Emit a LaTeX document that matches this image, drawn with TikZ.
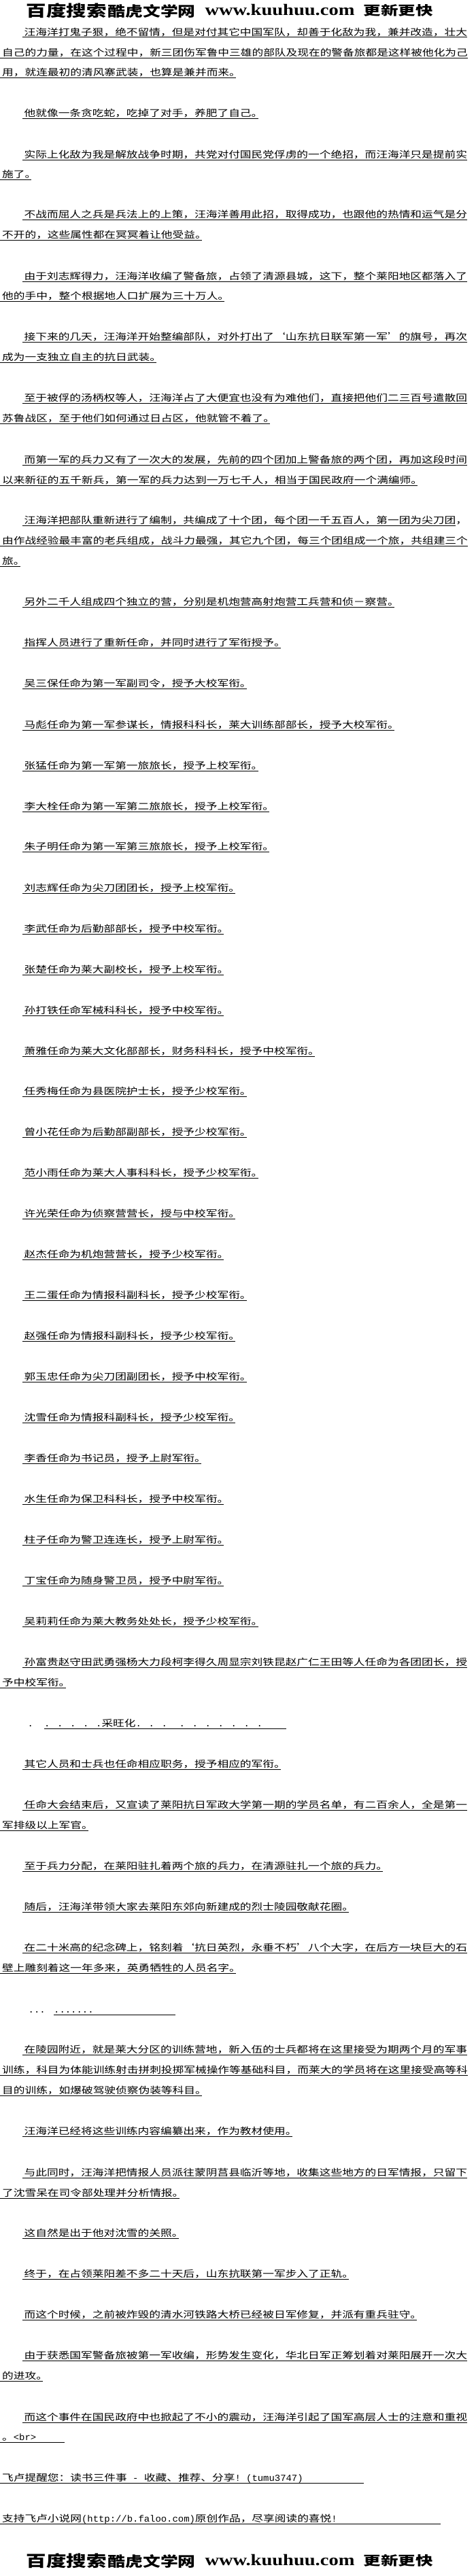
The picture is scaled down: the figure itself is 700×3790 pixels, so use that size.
\documentclass[tikz,border=0pt]{standalone}
\usepackage{fontspec}
\usepackage{graphicx}
\newfontfamily\cjk[FakeStretch=1.237]{Noto Sans CJK SC}
\newfontfamily\lat[FakeStretch=1.03]{Liberation Mono}
\newfontfamily\webfont{Liberation Serif}
\newcommand\dotcell{\makebox[19pt][l]{\lat .}}
\newcommand\openq{\makebox[16.7pt][r]{‘}}
\newcommand\closeq{\makebox[16.7pt][l]{’}}
\tikzset{
  textline/.style={anchor=south west, inner sep=0pt, text depth=2pt,
    font=\cjk\fontsize{13.5}{13.5}\selectfont},
  banner/.style={anchor=south west, inner sep=0pt, font=\cjk},
  uline/.style={line width=1pt}
}
\begin{document}
\begin{tikzpicture}[x=1pt,y=-1pt]
  \fill[white] (0,0) rectangle (700,3790);
  \useasboundingbox (0,0) rectangle (700,3790);
  \draw
    (38.5,27) node[banner] (t1) {\resizebox*{118pt}{22pt}{\bfseries 百度搜索}}
    (158.5,27) node[banner] (t2) {\resizebox*{129pt}{20pt}{\bfseries 酷虎文学网}}
    (301.3,23.3) node[banner] (t3) {\resizebox*{220pt}{16.6pt}{\webfont\bfseries www.kuuhuu.com}}
    (534.7,25) node[banner] (t4) {\resizebox*{102pt}{18pt}{\bfseries 更新更快}}
    (35.5,55) node[textline] (1) {汪海洋打鬼子狠，绝不留情，但是对付其它中国军队，却善于化敌为我，兼并改造，壮大}
    (3,85) node[textline] (2) {自己的力量，在这个过程中，新三团伤军鲁中三雄的部队及现在的警备旅都是这样被他化为己}
    (3,114) node[textline] (3) {用，就连最初的清风寨武装，也算是兼并而来。}
    (35.5,174) node[textline] (4) {他就像一条贪吃蛇，吃掉了对手，养肥了自己。}
    (35.5,235) node[textline] (5) {实际上化敌为我是解放战争时期，共党对付国民党俘虏的一个绝招，而汪海洋只是提前实}
    (3,264) node[textline] (6) {施了。}
    (35.5,323) node[textline] (7) {不战而屈人之兵是兵法上的上策，汪海洋善用此招，取得成功，也跟他的热情和运气是分}
    (3,353) node[textline] (8) {不开的，这些属性都在冥冥着让他受益。}
    (35.5,414) node[textline] (9) {由于刘志辉得力，汪海洋收编了警备旅，占领了清源县城，这下，整个莱阳地区都落入了}
    (3,443) node[textline] (10) {他的手中，整个根据地人口扩展为三十万人。}
    (35.5,503) node[textline] (11) {接下来的几天，汪海洋开始整编部队，对外打出了\openq 山东抗日联军第一军\closeq 的旗号，再次}
    (3,533) node[textline] (12) {成为一支独立自主的抗日武装。}
    (35.5,593) node[textline] (13) {至于被俘的汤柄权等人，汪海洋占了大便宜也没有为难他们，直接把他们二三百号遣散回}
    (3,623) node[textline] (14) {苏鲁战区，至于他们如何通过日占区，他就管不着了。}
    (35.5,684) node[textline] (15) {而第一军的兵力又有了一次大的发展，先前的四个团加上警备旅的两个团，再加这段时间}
    (3,714) node[textline] (16) {以来新征的五千新兵，第一军的兵力达到一万七千人，相当于国民政府一个满编师。}
    (35.5,773) node[textline] (17) {汪海洋把部队重新进行了编制，共编成了十个团，每个团一千五百人，第一团为尖刀团，}
    (3,803) node[textline] (18) {由作战经验最丰富的老兵组成，战斗力最强，其它九个团，每三个团组成一个旅，共组建三个}
    (3,833) node[textline] (19) {旅。}
    (35.5,893) node[textline] (20) {另外二千人组成四个独立的营，分别是机炮营高射炮营工兵营和侦－察营。}
    (35.5,953) node[textline] (21) {指挥人员进行了重新任命，并同时进行了军衔授予。}
    (35.5,1013) node[textline] (22) {吴三保任命为第一军副司令，授予大校军衔。}
    (35.5,1074) node[textline] (23) {马彪任命为第一军参谋长，情报科科长，莱大训练部部长，授予大校军衔。}
    (35.5,1134) node[textline] (24) {张猛任命为第一军第一旅旅长，授予上校军衔。}
    (35.5,1194) node[textline] (25) {李大栓任命为第一军第二旅旅长，授予上校军衔。}
    (35.5,1253) node[textline] (26) {朱子明任命为第一军第三旅旅长，授予上校军衔。}
    (35.5,1314) node[textline] (27) {刘志辉任命为尖刀团团长，授予上校军衔。}
    (35.5,1374) node[textline] (28) {李武任命为后勤部部长，授予中校军衔。}
    (35.5,1434) node[textline] (29) {张楚任命为莱大副校长，授予上校军衔。}
    (35.5,1494) node[textline] (30) {孙打铁任命军械科科长，授予中校军衔。}
    (35.5,1554) node[textline] (31) {萧雅任命为莱大文化部部长，财务科科长，授予中校军衔。}
    (35.5,1613) node[textline] (32) {任秀梅任命为县医院护士长，授予少校军衔。}
    (35.5,1673) node[textline] (33) {曾小花任命为后勤部副部长，授予少校军衔。}
    (35.5,1733) node[textline] (34) {范小雨任命为莱大人事科科长，授予少校军衔。}
    (35.5,1793) node[textline] (35) {许光荣任命为侦察营营长，授与中校军衔。}
    (35.5,1853) node[textline] (36) {赵杰任命为机炮营营长，授予少校军衔。}
    (35.5,1913) node[textline] (37) {王二蛋任命为情报科副科长，授予少校军衔。}
    (35.5,1973) node[textline] (38) {赵强任命为情报科副科长，授予少校军衔。}
    (35.5,2033) node[textline] (39) {郭玉忠任命为尖刀团副团长，授予中校军衔。}
    (35.5,2093) node[textline] (40) {沈雪任命为情报科副科长，授予少校军衔。}
    (35.5,2153) node[textline] (41) {李香任命为书记员，授予上尉军衔。}
    (35.5,2213) node[textline] (42) {水生任命为保卫科科长，授予中校军衔。}
    (35.5,2273) node[textline] (43) {柱子任命为警卫连连长，授予上尉军衔。}
    (35.5,2333) node[textline] (44) {丁宝任命为随身警卫员，授予中尉军衔。}
    (35.5,2393) node[textline] (45) {吴莉莉任命为莱大教务处处长，授予少校军衔。}
    (35.5,2453) node[textline] (46) {孙富贵赵守田武勇强杨大力段柯李得久周显宗刘铁昆赵广仁王田等人任命为各团团长，授}
    (3,2483) node[textline] (47) {予中校军衔。}
    (40.5,2543) node[textline] (48) {\lat .}
    (65,2543) node[textline] (49) {\makebox[356pt][l]{\dotcell\dotcell\dotcell\dotcell{\lat .}采旺化\dotcell\dotcell{\lat .}\hspace{17.6pt}\dotcell\dotcell\dotcell\dotcell\dotcell\dotcell{\lat .}}}
    (35.5,2603) node[textline] (50) {其它人员和士兵也任命相应职务，授予相应的军衔。}
    (35.5,2663) node[textline] (51) {任命大会结束后，又宣读了莱阳抗日军政大学第一期的学员名单，有二百余人，全是第一}
    (3,2693) node[textline] (52) {军排级以上军官。}
    (35.5,2753) node[textline] (53) {至于兵力分配，在莱阳驻扎着两个旅的兵力，在清源驻扎一个旅的兵力。}
    (35.5,2813) node[textline] (54) {随后，汪海洋带领大家去莱阳东郊向新建成的烈士陵园敬献花圈。}
    (35.5,2873) node[textline] (55) {在二十米高的纪念碑上，铭刻着\openq 抗日英烈，永垂不朽\closeq 八个大字，在后方一块巨大的石}
    (3,2903) node[textline] (56) {壁上雕刻着这一年多来，英勇牺牲的人员名字。}
    (41.5,2964) node[textline] (57) {\lat ...}
    (79,2964) node[textline] (58) {\makebox[179pt][l]{\lat .......}}
    (35.5,3023) node[textline] (59) {在陵园附近，就是莱大分区的训练营地，新入伍的士兵都将在这里接受为期两个月的军事}
    (3,3053) node[textline] (60) {训练，科目为体能训练射击拼刺投掷军械操作等基础科目，而莱大的学员将在这里接受高等科}
    (3,3083) node[textline] (61) {目的训练，如爆破驾驶侦察伪装等科目。}
    (35.5,3143) node[textline] (62) {汪海洋已经将这些训练内容编纂出来，作为教材使用。}
    (35.5,3204) node[textline] (63) {与此同时，汪海洋把情报人员派往蒙阴莒县临沂等地，收集这些地方的日军情报，只留下}
    (3,3234) node[textline] (64) {了沈雪呆在司令部处理并分析情报。}
    (35.5,3293) node[textline] (65) {这自然是出于他对沈雪的关照。}
    (35.5,3353) node[textline] (66) {终于，在占领莱阳差不多二十天后，山东抗联第一军步入了正轨。}
    (35.5,3413) node[textline] (67) {而这个时候，之前被炸毁的清水河铁路大桥已经被日军修复，并派有重兵驻守。}
    (35.5,3473) node[textline] (68) {由于获悉国军警备旅被第一军收编，形势发生变化，华北日军正筹划着对莱阳展开一次大}
    (3,3503) node[textline] (69) {的进攻。}
    (35.5,3564) node[textline] (70) {而这个事件在国民政府中也掀起了不小的震动，汪海洋引起了国军高层人士的注意和重视}
    (3,3593) node[textline] (71) {\makebox[92pt][l]{。{\lat <br>}}}
    (3,3653) node[textline] (72) {\makebox[532pt][l]{飞卢提醒您：读书三件事{\lat\ -\ }收藏、推荐、分享{\lat !\ (tumu3747)}}}
    (3,3713) node[textline] (73) {\makebox[645pt][l]{支持飞卢小说网{\lat (http://b.faloo.com)}原创作品，尽享阅读的喜悦{\lat !}}}
    (38.5,3778.7) node[banner] (b1) {\resizebox*{118pt}{22pt}{\bfseries 百度搜索}}
    (158.5,3778.7) node[banner] (b2) {\resizebox*{129pt}{20pt}{\bfseries 酷虎文学网}}
    (301.3,3775) node[banner] (b3) {\resizebox*{220pt}{16.6pt}{\webfont\bfseries www.kuuhuu.com}}
    (534.7,3776.7) node[banner] (b4) {\resizebox*{102pt}{18pt}{\bfseries 更新更快}};
  % underlines
  \begin{scope}[uline]
    \draw ([xshift=-3pt]1.south west) to (1.south east);
    \draw ([xshift=-3pt]2.south west) to (2.south east);
    \draw ([xshift=-3pt]3.south west) to ([xshift=-7pt]3.south east);
    \draw ([xshift=-3pt]4.south west) to ([xshift=-7pt]4.south east);
    \draw ([xshift=-3pt]5.south west) to (5.south east);
    \draw ([xshift=-3pt]6.south west) to ([xshift=-7pt]6.south east);
    \draw ([xshift=-3pt]7.south west) to (7.south east);
    \draw ([xshift=-3pt]8.south west) to ([xshift=-7pt]8.south east);
    \draw ([xshift=-3pt]9.south west) to (9.south east);
    \draw ([xshift=-3pt]10.south west) to ([xshift=-7pt]10.south east);
    \draw ([xshift=-3pt]11.south west) to (11.south east);
    \draw ([xshift=-3pt]12.south west) to ([xshift=-7pt]12.south east);
    \draw ([xshift=-3pt]13.south west) to (13.south east);
    \draw ([xshift=-3pt]14.south west) to ([xshift=-7pt]14.south east);
    \draw ([xshift=-3pt]15.south west) to (15.south east);
    \draw ([xshift=-3pt]16.south west) to ([xshift=-7pt]16.south east);
    \draw ([xshift=-3pt]17.south west) to ([xshift=-16.7pt]17.south east);
    \draw ([xshift=-3pt]18.south west) to (18.south east);
    \draw ([xshift=-3pt]19.south west) to ([xshift=-7pt]19.south east);
    \draw ([xshift=-3pt]20.south west) to ([xshift=-7pt]20.south east);
    \draw ([xshift=-3pt]21.south west) to ([xshift=-7pt]21.south east);
    \draw ([xshift=-3pt]22.south west) to ([xshift=-7pt]22.south east);
    \draw ([xshift=-3pt]23.south west) to ([xshift=-7pt]23.south east);
    \draw ([xshift=-3pt]24.south west) to ([xshift=-7pt]24.south east);
    \draw ([xshift=-3pt]25.south west) to ([xshift=-7pt]25.south east);
    \draw ([xshift=-3pt]26.south west) to ([xshift=-7pt]26.south east);
    \draw ([xshift=-3pt]27.south west) to ([xshift=-7pt]27.south east);
    \draw ([xshift=-3pt]28.south west) to ([xshift=-7pt]28.south east);
    \draw ([xshift=-3pt]29.south west) to ([xshift=-7pt]29.south east);
    \draw ([xshift=-3pt]30.south west) to ([xshift=-7pt]30.south east);
    \draw ([xshift=-3pt]31.south west) to ([xshift=-7pt]31.south east);
    \draw ([xshift=-3pt]32.south west) to ([xshift=-7pt]32.south east);
    \draw ([xshift=-3pt]33.south west) to ([xshift=-7pt]33.south east);
    \draw ([xshift=-3pt]34.south west) to ([xshift=-7pt]34.south east);
    \draw ([xshift=-3pt]35.south west) to ([xshift=-7pt]35.south east);
    \draw ([xshift=-3pt]36.south west) to ([xshift=-7pt]36.south east);
    \draw ([xshift=-3pt]37.south west) to ([xshift=-7pt]37.south east);
    \draw ([xshift=-3pt]38.south west) to ([xshift=-7pt]38.south east);
    \draw ([xshift=-3pt]39.south west) to ([xshift=-7pt]39.south east);
    \draw ([xshift=-3pt]40.south west) to ([xshift=-7pt]40.south east);
    \draw ([xshift=-3pt]41.south west) to ([xshift=-7pt]41.south east);
    \draw ([xshift=-3pt]42.south west) to ([xshift=-7pt]42.south east);
    \draw ([xshift=-3pt]43.south west) to ([xshift=-7pt]43.south east);
    \draw ([xshift=-3pt]44.south west) to ([xshift=-7pt]44.south east);
    \draw ([xshift=-3pt]45.south west) to ([xshift=-7pt]45.south east);
    \draw ([xshift=-3pt]46.south west) to (46.south east);
    \draw ([xshift=-3pt]47.south west) to ([xshift=-7pt]47.south east);
    \draw (49.south west) to (49.south east);
    \draw ([xshift=-3pt]50.south west) to ([xshift=-7pt]50.south east);
    \draw ([xshift=-3pt]51.south west) to (51.south east);
    \draw ([xshift=-3pt]52.south west) to ([xshift=-7pt]52.south east);
    \draw ([xshift=-3pt]53.south west) to ([xshift=-7pt]53.south east);
    \draw ([xshift=-3pt]54.south west) to ([xshift=-7pt]54.south east);
    \draw ([xshift=-3pt]55.south west) to (55.south east);
    \draw ([xshift=-3pt]56.south west) to ([xshift=-7pt]56.south east);
    \draw (58.south west) to (58.south east);
    \draw ([xshift=-3pt]59.south west) to (59.south east);
    \draw ([xshift=-3pt]60.south west) to (60.south east);
    \draw ([xshift=-3pt]61.south west) to ([xshift=-7pt]61.south east);
    \draw ([xshift=-3pt]62.south west) to ([xshift=-7pt]62.south east);
    \draw ([xshift=-3pt]63.south west) to (63.south east);
    \draw ([xshift=-3pt]64.south west) to ([xshift=-7pt]64.south east);
    \draw ([xshift=-3pt]65.south west) to ([xshift=-7pt]65.south east);
    \draw ([xshift=-3pt]66.south west) to ([xshift=-7pt]66.south east);
    \draw ([xshift=-3pt]67.south west) to ([xshift=-7pt]67.south east);
    \draw ([xshift=-3pt]68.south west) to (68.south east);
    \draw ([xshift=-3pt]69.south west) to ([xshift=-7pt]69.south east);
    \draw ([xshift=-3pt]70.south west) to (70.south east);
    \draw ([xshift=-3pt]71.south west) to (71.south east);
    \draw ([xshift=-3pt]72.south west) to (72.south east);
    \draw ([xshift=-3pt]73.south west) to (73.south east);
  \end{scope}
\end{tikzpicture}
\end{document}
